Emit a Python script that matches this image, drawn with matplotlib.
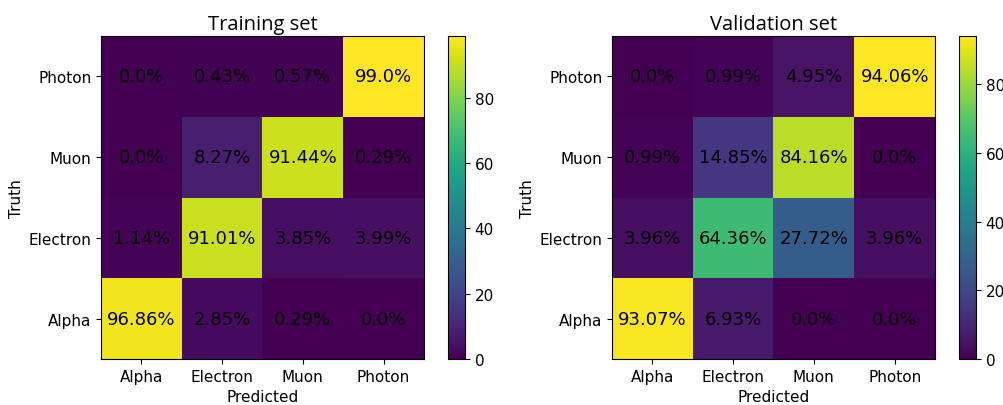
import numpy as np
import matplotlib
matplotlib.use("Agg")
import matplotlib.pyplot as plt

classes = ["Alpha", "Electron", "Muon", "Photon"]

# rows = truth (Alpha..Photon), columns = predicted, values in percent
train_pct = [
    [96.86, 2.85, 0.29, 0.0],
    [1.14, 91.01, 3.85, 3.99],
    [0.0, 8.27, 91.44, 0.29],
    [0.0, 0.43, 0.57, 99.0],
]
valid_pct = [
    [93.07, 6.93, 0.0, 0.0],
    [3.96, 64.36, 27.72, 3.96],
    [0.99, 14.85, 84.16, 0.0],
    [0.0, 0.99, 4.95, 94.06],
]
titles = ["Training set", "Validation set"]

W, H = 1004, 406
fig = plt.figure(figsize=(W / 100, H / 100), dpi=100)


def box(x0, y0, x1, y1):
    return [x0 / W, 1 - y1 / H, (x1 - x0) / W, (y1 - y0) / H]


panels = [
    (box(101, 37, 424, 360), box(448, 37, 465, 360)),
    (box(612, 37, 935, 360), box(959, 37, 976, 360)),
]

for (ax_rect, cb_rect), data, title in zip(panels, [train_pct, valid_pct], titles):
    ax = fig.add_axes(ax_rect)
    cax = fig.add_axes(cb_rect)
    m = np.array(data)
    im = ax.imshow(m, cmap="viridis", origin="lower", aspect="auto",
                   vmin=m.min(), vmax=m.max())
    for i in range(len(classes)):
        for j in range(len(classes)):
            ax.text(j, i, f"{m[i, j]}%", ha="center", va="center",
                    fontsize=13, color="black")
    ax.set_xticks(range(len(classes)))
    ax.set_yticks(range(len(classes)))
    ax.set_xticklabels(classes, fontsize=11)
    ax.set_yticklabels(classes, fontsize=11)
    ax.set_xlabel("Predicted", fontsize=11, labelpad=4)
    ax.set_ylabel("Truth", fontsize=11, labelpad=3)
    ax.set_title(title, fontsize=14.5, family=["Open Sans", "DejaVu Sans"], pad=5)
    cb = fig.colorbar(im, cax=cax)
    cb.set_ticks([0, 20, 40, 60, 80])
    cb.ax.tick_params(labelsize=11)

fig.savefig("out.png", dpi=100)
